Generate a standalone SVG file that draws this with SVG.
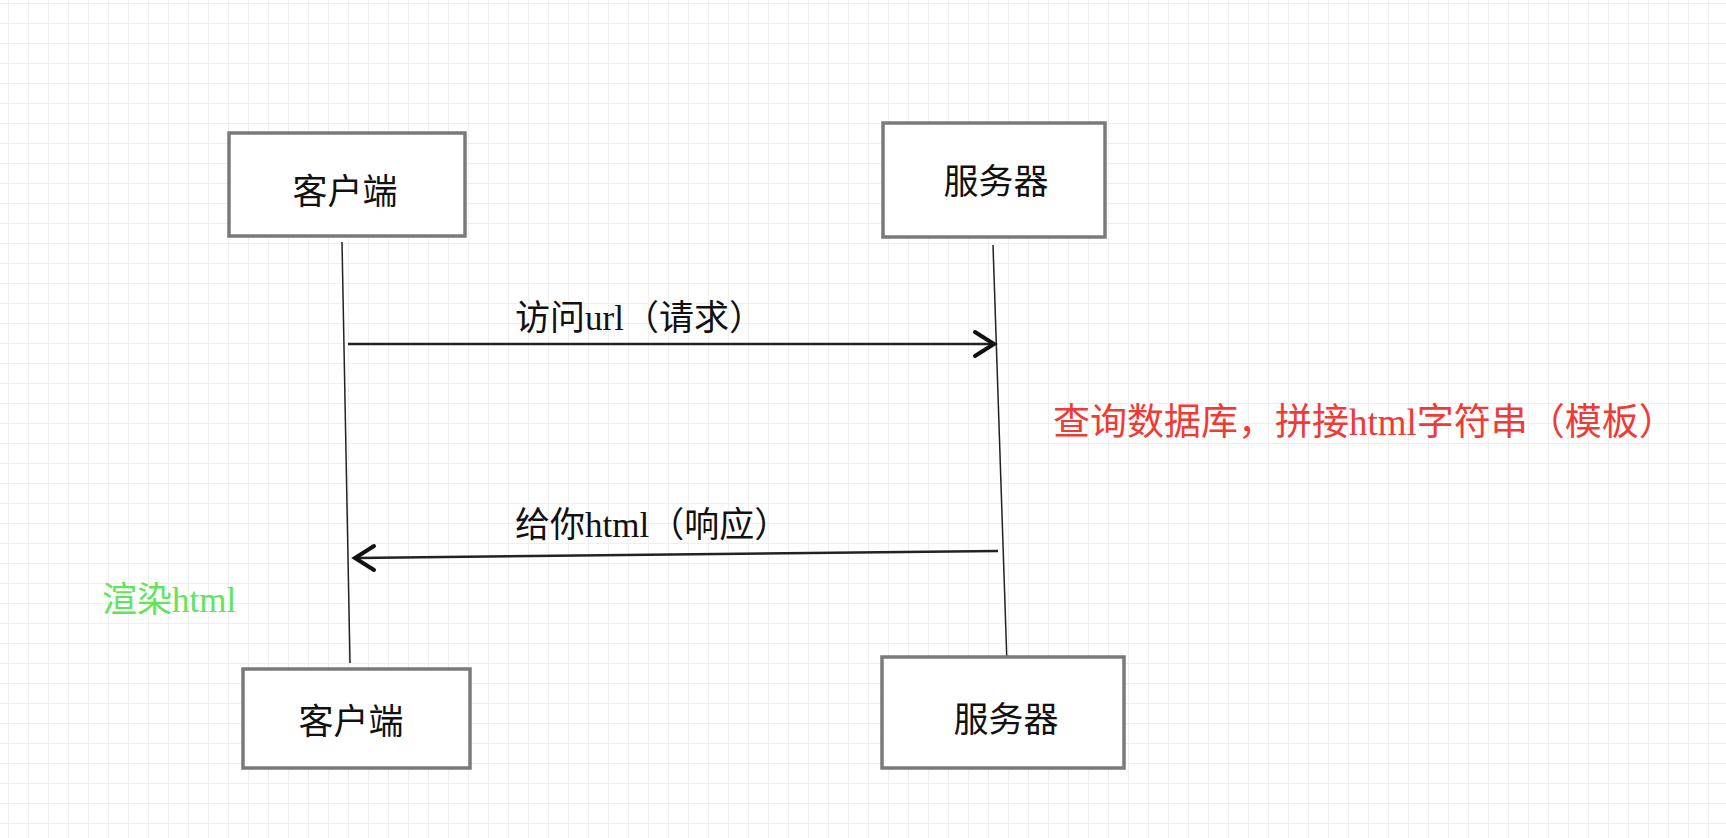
<svg xmlns="http://www.w3.org/2000/svg" width="1726" height="838" viewBox="0 0 1726 838">
<defs>
<pattern id="grid" width="20" height="20" patternUnits="userSpaceOnUse" x="8" y="3">
<path d="M0 0H20M0 0V20" stroke="#efefef" stroke-width="2" fill="none"/>
</pattern>
<style>
.box{fill:#fff;stroke:#7a7a7a;stroke-width:3.5}
.t{font-family:"Liberation Serif","Noto Sans CJK SC",serif;font-size:35px;fill:#111}
.life{stroke:#222;stroke-width:1.5;fill:none}
.msg{stroke:#222;stroke-width:2.5;fill:none}
.head{stroke:#111;stroke-width:4;fill:none;stroke-linejoin:miter;stroke-linecap:round}
</style>
</defs>
<rect width="1726" height="838" fill="#fff"/>
<rect width="1726" height="838" fill="url(#grid)"/>
<g id="connectors">
<path class="life" d="M342 242L350 663"/>
<path class="life" d="M993 245L1007 664"/>
<path class="msg" d="M348 344L992 344"/>
<path class="head" d="M975 332L994 344L975 356"/>
<path class="msg" d="M998 551L357 558"/>
<path class="head" d="M374 546L355 558L374 570"/>
</g>
<g id="client-top">
<rect class="box" x="229" y="133" width="236" height="103"/>
<text class="t" x="345" y="204" text-anchor="middle">客户端</text>
</g>
<g id="server-top">
<rect class="box" x="883" y="123" width="222" height="114"/>
<text class="t" x="996" y="194" text-anchor="middle">服务器</text>
</g>
<g id="client-bottom">
<rect class="box" x="243" y="669" width="227" height="99"/>
<text class="t" x="351" y="734" text-anchor="middle">客户端</text>
</g>
<g id="server-bottom">
<rect class="box" x="882" y="657" width="242" height="111"/>
<text class="t" x="1006" y="732" text-anchor="middle">服务器</text>
</g>
<g id="labels">
<text class="t" x="515" y="330">访问url（请求）</text>
<text class="t" x="1053" y="435" style="fill:#f03a35;font-size:37px">查询数据库，拼接html字符串（模板）</text>
<text class="t" x="515" y="537">给你html（响应）</text>
<text class="t" x="102" y="612" style="fill:#62e45a">渲染html</text>
</g>
</svg>
